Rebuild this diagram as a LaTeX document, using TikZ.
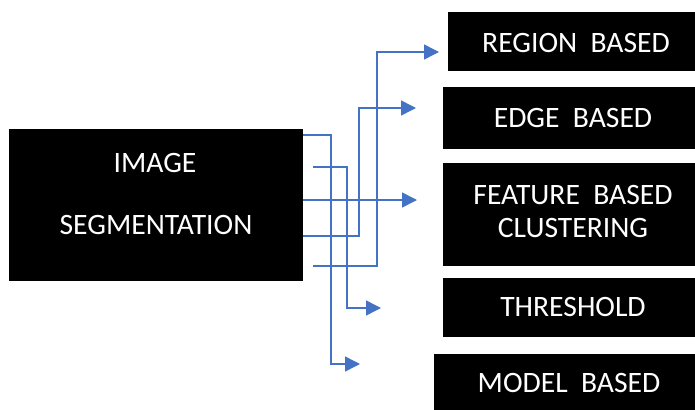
\documentclass[tikz,border=0pt]{standalone}
\usepackage{fontspec}
\setmainfont{Carlito}
\usetikzlibrary{arrows.meta}
\definecolor{conn}{RGB}{68,114,196}
\begin{document}
\begin{tikzpicture}[x=1pt,y=-1pt,
 blk/.style={fill=black,draw=none,inner sep=0pt,anchor=north west},
 lbl/.style={text=white,font=\fontsize{29.6}{32}\selectfont,inner sep=0pt},
 link/.style={draw=conn,line width=1.5pt,-{Triangle[length=15pt,width=15pt]}}]
\useasboundingbox (0,0) rectangle (695,409);
% boxes
\node[blk,minimum width=294pt,minimum height=152pt] (main) at (9,129) {};
\node[blk,minimum width=250pt,minimum height=59pt] (region) at (448,12) {};
\node[blk,minimum width=255pt,minimum height=62pt] (edge) at (443,87) {};
\node[blk,minimum width=255pt,minimum height=103pt] (feature) at (443,163) {};
\node[blk,minimum width=255pt,minimum height=59pt] (threshold) at (443,278) {};
\node[blk,minimum width=264pt,minimum height=60pt] (model) at (434,354) {};
% texts
\node[lbl] (t1) at (155,163) {IMAGE};
\node[lbl] (t2) at (156,225) {SEGMENTATION};
\node[lbl] (t3) at (576,43) {REGION\ \ BASED};
\node[lbl] (t4) at (573,118) {EDGE\ \ BASED};
\node[lbl] (t5) at (573,195) {FEATURE\ \ BASED};
\node[lbl] (t6) at (573,228) {CLUSTERING};
\node[lbl] (t7) at (573,307) {THRESHOLD};
\node[lbl] (t8) at (569,383) {MODEL\ \ BASED};
% connector ends
\coordinate (s1) at (303,135);
\coordinate (s2) at (313,167);
\coordinate (s3) at (303,200);
\coordinate (s4) at (303,236);
\coordinate (s5) at (313,266);
\coordinate (e1) at (360,364);
\coordinate (e2) at (381,308);
\coordinate (e3) at (417,200);
\coordinate (e4) at (416,108);
\coordinate (e5) at (439,52);
% connectors
\draw[link] (main.east |- s1) -| (331,364) -- (e1);
\draw[link] (s2) -| (347,308) -- (e2);
\draw[link] (main.east |- s3) -- (e3);
\draw[link] (main.east |- s4) -| (359,108) -- (e4);
\draw[link] (s5) -| (377,52) -- (e5);
\end{tikzpicture}
\end{document}
